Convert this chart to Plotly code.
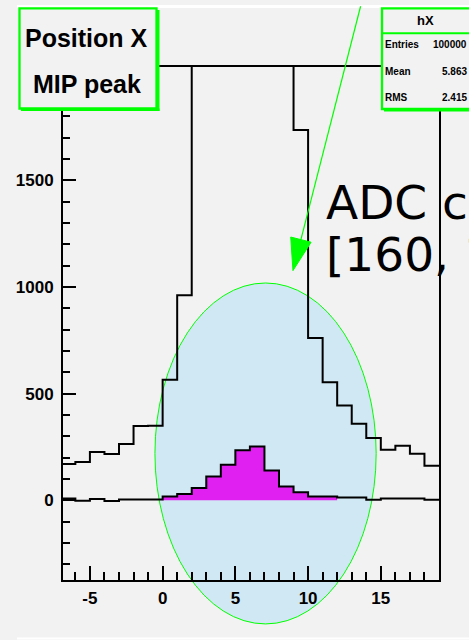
import plotly.graph_objects as go

# ---------------- data ----------------
bin_low_edges = [-7, -6, -5, -4, -3, -2, -1, 0, 1, 2, 3, 4, 5, 6, 7, 8, 9,
                 10, 11, 12, 13, 14, 15, 16, 17, 18]
bin_width = 1
# all events (clipped at the top of the frame between 2 and 9)
all_counts = [170, 179, 226, 217, 264, 348, 349, 565, 961, 5200, 12000, 17500,
              19500, 17800, 12500, 7200, 1737, 761, 554, 445, 359, 292, 237,
              256, 218, 162]
# events in the MIP peak selection
peak_counts = [8, -2, 6, -4, 3, 3, 3, 18, 29, 57, 112, 167, 234, 252, 140, 65,
               38, 18, 18, 13, 13, 2, 8, 8, 8, 2]
fill_from, fill_to = 0, 12          # filled (magenta) part of the selection

x_tick_vals = [-5, 0, 5, 10, 15]
x_tick_text = ["-5", "0", "5", "10", "15"]
y_tick_vals = [0, 500, 1000, 1500]
y_tick_text = ["0", "500", "1000", "1500"]

title_lines = ["Position X", "MIP peak"]
stats_name = "hX"
stats_labels = ["Entries", "Mean", "RMS"]
stats_values = ["100000", "5.863", "2.415"]
note_lines = ["ADC counts in", "[160, 180]"]

# ---------------- geometry ----------------
W, H = 469, 640
ML, MR, MT, MB = 63, 30, 67, 60
PW, PH = W - ML - MR, H - MT - MB
X0, X1 = -6.85, 19.0
Y0, Y1 = -374, 2032


def px_x(px):
    return (px - ML) / PW


def px_y(py):
    return (H - MB - py) / PH


def d_x(x):
    return (x - X0) / (X1 - X0)


def d_y(y):
    return (y - Y0) / (Y1 - Y0)


edges = bin_low_edges + [bin_low_edges[-1] + bin_width]

fig = go.Figure()

# selection ellipse (below everything)
ell = dict(x0=-0.53, x1=14.68, y0=-580, y1=1019)
fig.add_shape(type="circle", xref="paper", yref="paper", layer="below",
              x0=d_x(ell["x0"]), x1=d_x(ell["x1"]),
              y0=d_y(ell["y0"]), y1=d_y(ell["y1"]),
              fillcolor="#cfe8f3", line=dict(color="#00ff00", width=1))

# all-events histogram
fig.add_trace(go.Scatter(x=edges, y=all_counts + [all_counts[-1]],
                         mode="lines", line=dict(color="black", width=2, shape="hv"),
                         hoverinfo="skip", showlegend=False))

# selected (filled) part
i0 = bin_low_edges.index(fill_from)
i1 = bin_low_edges.index(fill_to)
fx = edges[i0:i1 + 1]
fy = peak_counts[i0:i1] + [peak_counts[i1 - 1]]
fig.add_trace(go.Scatter(x=fx, y=fy, mode="lines", fill="tozeroy",
                         fillcolor="#e020f0", line=dict(color="rgba(0,0,0,0)", width=0, shape="hv"),
                         hoverinfo="skip", showlegend=False))
fig.add_trace(go.Scatter(x=edges, y=peak_counts + [peak_counts[-1]],
                         mode="lines", line=dict(color="black", width=2, shape="hv"),
                         hoverinfo="skip", showlegend=False))

tickfont = dict(family="Liberation Sans, Arial, sans-serif", size=17, color="black", weight="bold")

fig.update_xaxes(range=[X0, X1], showgrid=False, zeroline=False,
                 showline=True, linecolor="black", linewidth=2, mirror=True,
                 ticks="inside", ticklen=14, tickwidth=2, tickcolor="black",
                 tickvals=x_tick_vals, ticktext=x_tick_text, tickfont=tickfont,
                 ticklabelstandoff=2,
                 minor=dict(ticks="inside", ticklen=8, tickwidth=2, tickcolor="black",
                            dtick=1, tick0=0, showgrid=False))
fig.update_yaxes(range=[Y0, Y1], showgrid=False, zeroline=False,
                 showline=True, linecolor="black", linewidth=2, mirror=True,
                 ticks="inside", ticklen=13, tickwidth=2, tickcolor="black",
                 tickvals=y_tick_vals, ticktext=y_tick_text, tickfont=tickfont,
                 ticklabelstandoff=4,
                 minor=dict(ticks="inside", ticklen=7, tickwidth=2, tickcolor="black",
                            dtick=100, tick0=0, showgrid=False))

shapes = []
# pad border highlight (white)
white = dict(color="white", width=3)
shapes.append(dict(type="line", xref="paper", yref="paper", x0=px_x(18.5), x1=px_x(18.5),
                   y0=px_y(6.5), y1=px_y(638), line=white))
shapes.append(dict(type="line", xref="paper", yref="paper", x0=px_x(17), x1=px_x(475),
                   y0=px_y(6.5), y1=px_y(6.5), line=white))
shapes.append(dict(type="line", xref="paper", yref="paper", x0=px_x(17), x1=px_x(475),
                   y0=px_y(638.5), y1=px_y(638.5), line=dict(color="white", width=2)))

green = "#00ff00"
# title box (with shadow)
shapes.append(dict(type="rect", xref="paper", yref="paper", x0=px_x(157), x1=px_x(159.5),
                   y0=px_y(111), y1=px_y(10), fillcolor=green, line=dict(width=0)))
shapes.append(dict(type="rect", xref="paper", yref="paper", x0=px_x(21), x1=px_x(159.5),
                   y0=px_y(111), y1=px_y(108.5), fillcolor=green, line=dict(width=0)))
shapes.append(dict(type="rect", xref="paper", yref="paper", x0=px_x(19.5), x1=px_x(156.5),
                   y0=px_y(108.5), y1=px_y(8.3), fillcolor="#f2f2f2",
                   line=dict(color=green, width=2.3)))
# stats box
shapes.append(dict(type="rect", xref="paper", yref="paper", x0=px_x(384), x1=px_x(480),
                   y0=px_y(111.5), y1=px_y(108.5), fillcolor=green, line=dict(width=0)))
shapes.append(dict(type="rect", xref="paper", yref="paper", x0=px_x(382), x1=px_x(478),
                   y0=px_y(109), y1=px_y(8.3), fillcolor="#f2f2f2",
                   line=dict(color=green, width=2.3)))
shapes.append(dict(type="line", xref="paper", yref="paper", x0=px_x(382), x1=px_x(478),
                   y0=px_y(33.3), y1=px_y(33.3), line=dict(color=green, width=2)))

# arrow (line + filled head), defined in data coordinates
tail = (13.61, 2317)
tip = (8.96, 1077)
tx, ty = ML + d_x(tail[0]) * PW, H - MB - d_y(tail[1]) * PH
hx, hy = ML + d_x(tip[0]) * PW, H - MB - d_y(tip[1]) * PH
vx, vy = hx - tx, hy - ty
L = (vx ** 2 + vy ** 2) ** 0.5
ux, uy = vx / L, vy / L
head_len, head_half = 32, 10.5
bx, by = hx - ux * head_len, hy - uy * head_len
p1 = (bx - uy * head_half, by + ux * head_half)
p2 = (bx + uy * head_half, by - ux * head_half)
shapes.append(dict(type="line", xref="paper", yref="paper", x0=px_x(tx), y0=px_y(ty),
                   x1=px_x(bx), y1=px_y(by), line=dict(color=green, width=1.2)))
path = "M {:.5f},{:.5f} L {:.5f},{:.5f} L {:.5f},{:.5f} Z".format(
    px_x(hx), px_y(hy), px_x(p1[0]), px_y(p1[1]), px_x(p2[0]), px_y(p2[1]))
shapes.append(dict(type="path", xref="paper", yref="paper", path=path,
                   fillcolor=green, line=dict(color=green, width=1)))

ann = []
boldfont = "Liberation Sans, Arial, sans-serif"
ann.append(dict(text="<b>" + title_lines[0] + "</b>", x=px_x(86), y=px_y(38.5),
                xanchor="center", yanchor="middle",
                font=dict(family=boldfont, size=25, color="black")))
ann.append(dict(text="<b>" + title_lines[1] + "</b>", x=px_x(86.5), y=px_y(83.5),
                xanchor="center", yanchor="middle",
                font=dict(family=boldfont, size=25, color="black")))
ann.append(dict(text="<b>" + stats_name + "</b>", x=px_x(425.5), y=px_y(21),
                xanchor="center", yanchor="middle",
                font=dict(family=boldfont, size=13, color="black")))
narrow = "Liberation Sans Narrow, Arial Narrow, Liberation Sans, sans-serif"
for lab, val, yy in zip(stats_labels, stats_values, [45, 71.7, 97.3]):
    ann.append(dict(text="<b>" + lab + "</b>", x=px_x(382.5), y=px_y(yy),
                    xanchor="left", yanchor="middle",
                    font=dict(family=narrow, size=10, color="black")))
    ann.append(dict(text="<b>" + val + "</b>", x=px_x(468.5), y=px_y(yy),
                    xanchor="right", yanchor="middle",
                    font=dict(family=boldfont, size=10, color="black")))
for line, yy in zip(note_lines, [202, 254]):
    ann.append(dict(text=line, x=px_x(324), y=px_y(yy), xanchor="left", yanchor="middle",
                    font=dict(family="DejaVu Sans", size=47, color="black")))
for a in ann:
    a.update(xref="paper", yref="paper", showarrow=False)

fig.update_layout(width=W, height=H, margin=dict(l=ML, r=MR, t=MT, b=MB),
                  paper_bgcolor="#f2f2f2", plot_bgcolor="rgba(0,0,0,0)",
                  showlegend=False, shapes=shapes, annotations=ann)

fig.write_html("out.html")
